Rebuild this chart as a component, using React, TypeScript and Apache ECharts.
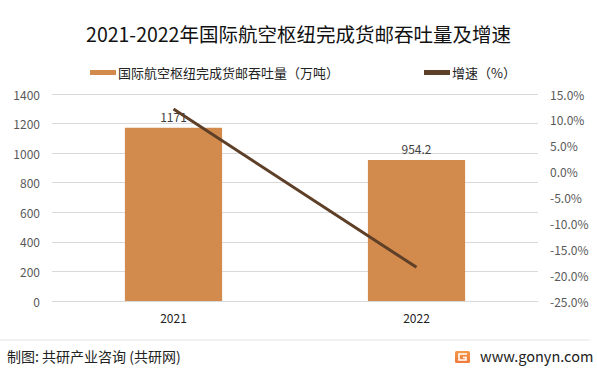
import React, { useEffect, useRef } from "react";
import * as echarts from "echarts";

const categories = ["2021", "2022"];
const throughput = [1171, 954.2];
const growth = [12.1, -18.5];
const leftTicks = { min: 0, max: 1400, interval: 200 };
const rightTicks = { min: -25, max: 15, interval: 5 };

const FONT = "'Noto Sans CJK SC', 'Noto Sans', sans-serif";

export default function App() {
  const ref = useRef<HTMLDivElement>(null);
  useEffect(() => {
    if (!ref.current) return;
    const chart = echarts.init(ref.current, undefined, { renderer: "svg" });
    chart.setOption({
      animation: false,
      backgroundColor: "#ffffff",
      textStyle: { fontFamily: FONT },
      title: {
        text: "2021-2022年国际航空枢纽完成货邮吞吐量及增速",
        left: "center",
        top: 19,
        textStyle: { fontSize: 19.5, fontWeight: "normal", color: "#111", fontFamily: FONT },
      },
      legend: {
        top: 61,
        left: 85,
        itemGap: 85,
        itemWidth: 26,
        itemHeight: 5,
        textStyle: { fontSize: 13, color: "#222", fontFamily: FONT, padding: [0, 0, 0, -3] },
        data: [
          { name: "国际航空枢纽完成货邮吞吐量（万吨）", icon: "rect" },
          { name: "增速（%）", icon: "rect", itemStyle: { color: "#5e3f28" } },
        ],
      },
      grid: { left: 52, right: 59, top: 94, bottom: 70 },
      xAxis: {
        type: "category",
        data: categories,
        axisLine: { show: true, lineStyle: { color: "#d9d9d9" } },
        axisTick: { show: false },
        axisLabel: { color: "#222", fontSize: 12, margin: 10 },
      },
      yAxis: [
        {
          type: "value",
          ...leftTicks,
          axisLine: { show: false },
          axisTick: { show: false },
          axisLabel: { color: "#595959", fontSize: 12, margin: 12, formatter: (v: number) => String(v) },
          splitLine: { lineStyle: { color: "#d9d9d9" } },
        },
        {
          type: "value",
          ...rightTicks,
          position: "right",
          axisLine: { show: false },
          axisTick: { show: false },
          splitLine: { show: false },
          axisLabel: {
            color: "#595959",
            fontSize: 12,
            margin: 12,
            formatter: (v: number) => v.toFixed(1) + "%",
          },
        },
      ],
      series: [
        {
          name: "国际航空枢纽完成货邮吞吐量（万吨）",
          type: "bar",
          data: throughput,
          barWidth: "40%",
          itemStyle: { color: "#d38b4d" },
          label: { show: true, position: "top", color: "#404040", fontSize: 12, distance: 5 },
        },
        {
          name: "增速（%）",
          type: "line",
          yAxisIndex: 1,
          data: growth,
          symbol: "none",
          lineStyle: { color: "#5e3f28", width: 3 },
          itemStyle: { color: "#5e3f28" },
        },
      ],
      graphic: [
        {
          type: "line",
          shape: { x1: 0, y1: 340, x2: 590, y2: 340 },
          style: { stroke: "#e6e6e6", lineWidth: 1 },
        },
        {
          type: "text",
          left: 7,
          top: 349,
          style: { text: "制图: 共研产业咨询 (共研网)", fill: "#222", font: `14px ${FONT}` },
        },
        {
          type: "rect",
          shape: { x: 455, y: 351, width: 15, height: 12, r: 1.5 },
          style: {
            fill: new echarts.graphic.LinearGradient(0, 0, 0, 1, [
              { offset: 0, color: "#f59a4a" },
              { offset: 1, color: "#f07a3a" },
            ]),
          },
        },
        {
          type: "polyline",
          shape: { points: [[467, 354], [459, 354], [459, 360], [466, 360], [466, 357.5], [463, 357.5]] },
          style: { stroke: "#ffffff", lineWidth: 1.6, fill: "none" },
        },
        {
          type: "text",
          left: 480,
          top: 348,
          style: { text: "www.gonyn.com", font: `14.5px ${FONT}`, fill: "#222" },
        },
      ],
    });
    return () => chart.dispose();
  }, []);
  return (
    <div
      ref={ref}
      style={{ position: "absolute", left: 0, top: 0, width: 597, height: 371 }}
    />
  );
}
